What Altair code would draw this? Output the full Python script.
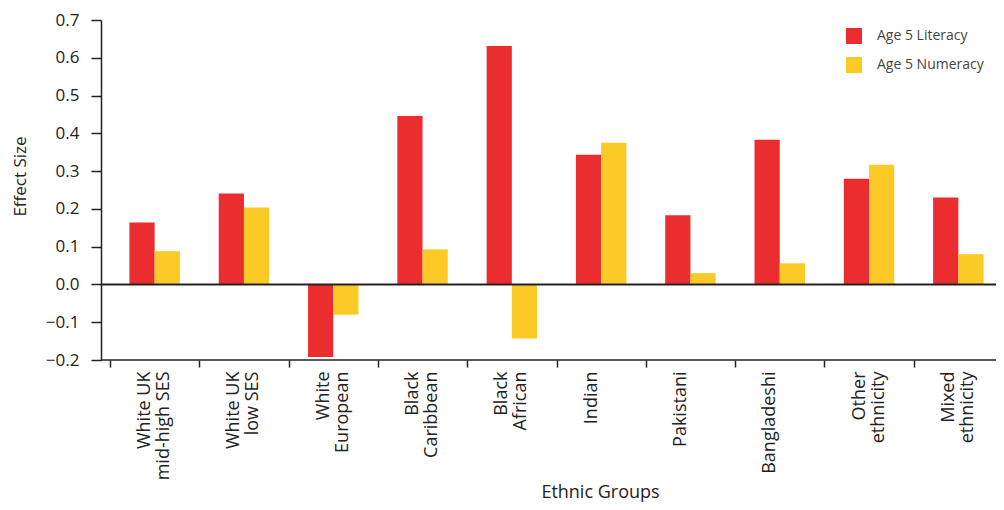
import altair as alt
import pandas as pd

groups = ["White UK|mid-high SES", "White UK|low SES", "White|European", "Black|Caribbean",
          "Black|African", "Indian", "Pakistani", "Bangladeshi", "Other|ethnicity", "Mixed|ethnicity"]
series = ["Age 5 Literacy", "Age 5 Numeracy"]
literacy = [0.164, 0.241, -0.192, 0.446, 0.631, 0.343, 0.183, 0.383, 0.280, 0.230]
numeracy = [0.088, 0.204, -0.080, 0.093, -0.143, 0.375, 0.030, 0.056, 0.317, 0.080]
y_ticks = [-0.2, -0.1, 0.0, 0.1, 0.2, 0.3, 0.4, 0.5, 0.6, 0.7]
colors = ["#EC2D2F", "#FCCA26"]

rows = []
for g, l, n in zip(groups, literacy, numeracy):
    rows.append({"group": g, "series": series[0], "value": l})
    rows.append({"group": g, "series": series[1], "value": n})
df = pd.DataFrame(rows)

FONT = "Open Sans"
INK = "#222222"
FS = 18
FSY = 17
W, H = 895, 340

yscale = alt.Scale(domain=[-0.2, 0.7], nice=False, zero=False)
yaxis = alt.Axis(values=y_ticks, format=".1f", grid=False, domainColor=INK,
                 domainWidth=1.5, tickColor=INK, tickSize=10, tickWidth=1.5,
                 labelPadding=12, labelFontSize=FSY, labelFont=FONT, labelColor=INK,
                 labelOverlap=False,
                 titleFontSize=FSY, titleFont=FONT, titleColor=INK,
                 titleFontWeight="normal", titleX=-81, titleY=156,
                 titleAlign="center", titleBaseline="middle", titleAngle=270)

bars = alt.Chart(df).mark_bar().encode(
    x=alt.X("group:N", sort=groups, title="Ethnic Groups",
            scale=alt.Scale(range=[9, 902], paddingInner=0, paddingOuter=0),
            axis=alt.Axis(labelAngle=270, labelExpr="split(datum.label, '|')",
                          tickBand="extent", domain=False, tickSize=7, tickColor=INK,
                          tickWidth=1.5, labelPadding=4, labelFontSize=FS, labelFont=FONT,
                          labelColor=INK, labelLineHeight=19, labelOffset=-10,
                          labelOverlap=False,
                          titleFontSize=FS, titleFont=FONT, titleColor=INK,
                          titleFontWeight="normal", titleX=499, titleY=137,
                          titleAlign="center", titleBaseline="alphabetic")),
    xOffset=alt.XOffset("series:N", sort=series,
                        scale=alt.Scale(paddingInner=0, paddingOuter=0.77)),
    y=alt.Y("value:Q", title="Effect Size", scale=yscale, axis=yaxis),
    color=alt.Color("series:N", sort=series,
                    scale=alt.Scale(domain=series, range=colors),
                    legend=alt.Legend(title=None, orient="none", legendX=745, legendY=8,
                                      symbolType="square", symbolSize=256,
                                      symbolStrokeWidth=0, labelFontSize=14,
                                      labelFont=FONT, labelColor="#444444",
                                      labelOffset=15, rowPadding=13, padding=0)),
)

zero_rule = alt.Chart(pd.DataFrame({"v": [0.0]})).mark_rule(color=INK, strokeWidth=2).encode(
    y=alt.Y("v:Q", title="Effect Size", scale=yscale, axis=yaxis))
base_rule = alt.Chart(pd.DataFrame({"v": [-0.2]})).mark_rule(color=INK, strokeWidth=1.5).encode(
    y=alt.Y("v:Q", title="Effect Size", scale=yscale, axis=yaxis))

chart = alt.layer(bars, zero_rule, base_rule).properties(
    width=W, height=H,
    autosize=alt.AutoSizeParams(type="none"),
    padding={"left": 93, "top": 12, "right": 0, "bottom": 142},
).configure_view(stroke=None)

chart.save("out.html", embed_options={"renderer": "svg", "actions": False})
